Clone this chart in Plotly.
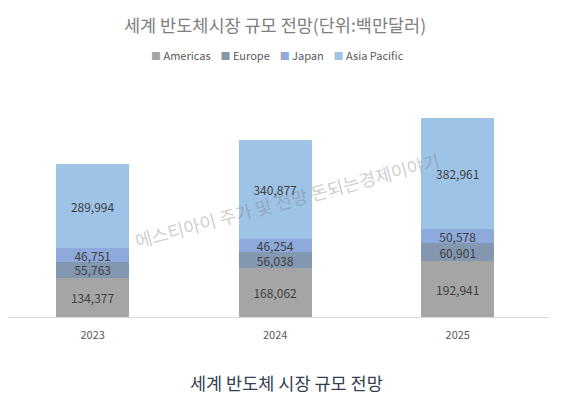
import plotly.graph_objects as go

years = ["2023", "2024", "2025"]
americas = [134377, 168062, 192941]
europe = [55763, 56038, 60901]
japan = [46751, 46254, 50578]
asia_pacific = [289994, 340877, 382961]

series_names = ["Americas", "Europe", "Japan", "Asia Pacific"]
series_values = [americas, europe, japan, asia_pacific]
series_colors = ["#A5A5A5", "#8497B0", "#8EA9DB", "#9DC3E6"]

FONT = "Noto Sans CJK KR"

fig = go.Figure()
for name, vals, color in zip(series_names, series_values, series_colors):
    fig.add_trace(go.Bar(
        x=years, y=vals, name=name,
        marker=dict(color=color, line=dict(width=0)),
        texttemplate="%{y:,}", textposition="inside",
        insidetextanchor="middle",
        textfont=dict(color="#404040", size=12, family=FONT),
    ))

W, H = 567, 391
fig.update_layout(
    barmode="stack",
    bargap=0.6,
    width=W, height=H,
    margin=dict(l=0, r=26, t=77, b=82),
    plot_bgcolor="white", paper_bgcolor="white",
    font=dict(family=FONT, color="#595959"),
    uniformtext=dict(minsize=12, mode="show"),
    title=dict(text="세계 반도체시장 규모 전망(단위:백만달러)", x=0.471, xanchor="center",
               y=0.954, yanchor="middle",
               font=dict(size=17.5, color="#808080", family=FONT)),
    showlegend=False,
    xaxis=dict(showline=True, linecolor="#D9D9D9", linewidth=1, ticks="",
               range=[-0.464, 2.5], ticklabelstandoff=8,
               tickfont=dict(size=11, color="#595959"), showgrid=False),
    yaxis=dict(range=[0, 800000], visible=False, showgrid=False),
)

# legend row built from the series names and colours
legend_parts = []
for name, color in zip(series_names, series_colors):
    legend_parts.append(
        f"<span style='color:{color};font-size:10px'>■</span> {name}"
    )
fig.add_annotation(
    text="&nbsp;&nbsp;&nbsp;&nbsp;".join(legend_parts), xref="paper", yref="paper",
    x=0.499, y=1.129, xanchor="center", yanchor="middle", showarrow=False,
    font=dict(size=11, color="#595959", family=FONT),
)

fig.add_annotation(
    text="에스티아이 주가 및 전망 돈되는경제이야기", xref="paper", yref="paper",
    x=0.515, y=0.506, xanchor="center", yanchor="middle", textangle=-15,
    showarrow=False, font=dict(size=18, color="rgba(128,128,128,0.4)", family=FONT),
)
fig.add_annotation(
    text="세계 반도체 시장 규모 전망", xref="paper", yref="paper",
    x=0.515, y=-0.284, xanchor="center", yanchor="middle",
    showarrow=False, font=dict(size=17.5, color="#333F50", family=FONT),
)

fig.write_html("out.html")
